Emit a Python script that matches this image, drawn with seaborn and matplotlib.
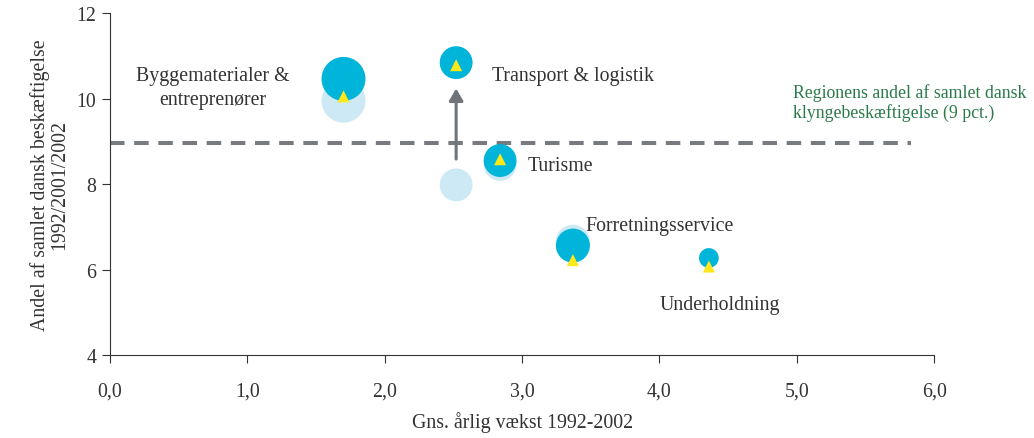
import matplotlib
matplotlib.use("Agg")
import matplotlib.pyplot as plt
import seaborn as sns
import pandas as pd

# ---- data ----
clusters = ["Byggematerialer &\nentreprenører", "Transport & logistik", "Turisme",
            "Forretningsservice", "Underholdning"]
growth = [1.70, 2.52, 2.84, 3.37, 4.36]
share_1992 = [9.95, 7.98, 8.46, 6.65, 6.27]
share_2001 = [10.46, 10.84, 8.55, 6.56, 6.27]
share_2002 = [10.05, 10.78, 8.58, 6.22, 6.07]
size_1992 = [1000, 560, 560, 600, 200]
size_2001 = [1000, 560, 560, 600, 200]
region_share = 8.95
xticks = [0, 1, 2, 3, 4, 5, 6]
xtick_labels = ["0,0", "1,0", "2,0", "3,0", "4,0", "5,0", "6,0"]
yticks = [4, 6, 8, 10, 12]

df = pd.DataFrame({"cluster": clusters, "growth": growth,
                   "s1992": share_1992, "s2001": share_2001, "s2002": share_2002,
                   "z1992": size_1992, "z2001": size_2001})

sns.set_theme(style="ticks")
plt.rcParams["font.family"] = ["Liberation Serif", "DejaVu Serif"]
TXT = "#333333"

fig = plt.figure(figsize=(10.34, 4.39), dpi=100)
ax = fig.add_axes([0.1064, 0.189, 0.797, 0.779])

sns.scatterplot(data=df, x="growth", y="s1992", size="z1992",
                sizes={v: v for v in size_1992}, color="#cde9f5",
                edgecolor="none", legend=False, ax=ax, zorder=2)
sns.scatterplot(data=df, x="growth", y="s2001", size="z2001",
                sizes={v: v for v in size_2001}, color="#00b4da",
                edgecolor="none", legend=False, ax=ax, zorder=3)
sns.scatterplot(data=df, x="growth", y="s2002", marker="^", s=75,
                color="#ffe81a", edgecolor="none", legend=False, ax=ax, zorder=4)

ax.plot([0, 5.83], [region_share, region_share], ls=(0, (3.6, 2.4)),
        color="#777b80", lw=2.9, zorder=1)

# arrow for Transport & logistik
ax.annotate("", xy=(growth[1], 10.30), xytext=(growth[1], 8.52),
            arrowprops=dict(arrowstyle="-|>,head_width=0.35,head_length=0.6",
                            color="#6e7479", lw=2.2), zorder=1)

fs = 14.3
ax.text(0.75, 10.25, clusters[0], ha="center", va="center", fontsize=fs, color=TXT,
        linespacing=1.35)
ax.text(2.78, 10.53, clusters[1], ha="left", va="center", fontsize=fs, color=TXT)
ax.text(3.04, 8.44, clusters[2], ha="left", va="center", fontsize=fs, color=TXT)
ax.text(3.46, 7.02, clusters[3], ha="left", va="center", fontsize=fs, color=TXT)
ax.text(4.00, 5.19, clusters[4], ha="left", va="center", fontsize=fs, color=TXT)
ax.text(4.97, 9.92, "Regionens andel af samlet dansk\nklyngebeskæftigelse (9 pct.)",
        ha="left", va="center", fontsize=12.8, color="#2a7a4a", linespacing=1.2)

ax.set_xlim(0, 6)
ax.set_ylim(4, 12)
ax.set_xticks(xticks)
ax.set_xticklabels(xtick_labels)
ax.set_yticks(yticks)
ax.tick_params(axis="both", labelsize=14.3, colors="#333333", length=6, width=0.8,
               labelcolor=TXT)
ax.tick_params(axis="x", pad=13)
ax.tick_params(axis="y", pad=4)
for sp in ["top", "right"]:
    ax.spines[sp].set_visible(False)
for sp in ["left", "bottom"]:
    ax.spines[sp].set_color("#333333")
    ax.spines[sp].set_linewidth(0.8)

ax.set_xlabel("Gns. årlig vækst 1992-2002", fontsize=14.3, color=TXT, labelpad=8)
ax.set_ylabel("Andel af samlet dansk beskæftigelse\n1992/2001/2002", fontsize=14.3,
              color=TXT, labelpad=5, linespacing=1.0)

fig.savefig("out.png", dpi=100)
